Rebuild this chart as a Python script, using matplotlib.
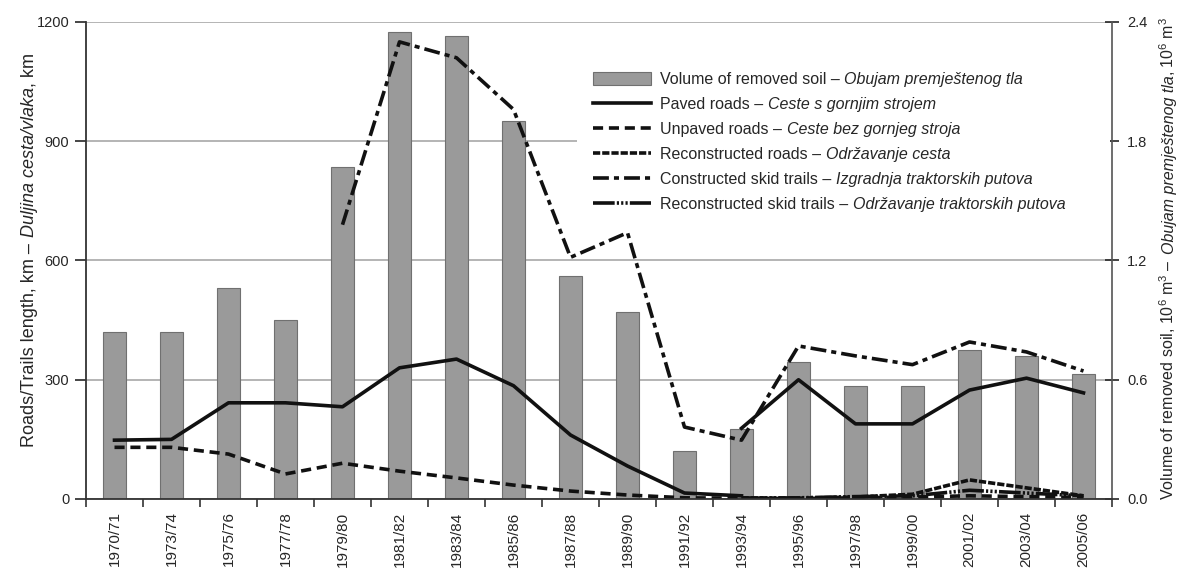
import numpy as np
import matplotlib
matplotlib.use('Agg')
from matplotlib import pyplot as plt

years = ['1970/71', '1973/74', '1975/76', '1977/78', '1979/80', '1981/82',
         '1983/84', '1985/86', '1987/88', '1989/90', '1991/92', '1993/94',
         '1995/96', '1997/98', '1999/00', '2001/02', '2003/04', '2005/06']

# volume of removed soil, 10^6 m3 (right axis)
soil_volume = [0.84, 0.84, 1.06, 0.90, 1.67, 2.35, 2.33, 1.90, 1.12, 0.94,
               0.24, 0.35, 0.69, 0.57, 0.57, 0.75, 0.72, 0.63]

# lengths in km (left axis), nan = no value
nan = np.nan
paved_roads = [148, 150, 242, 242, 232, 330, 352, 285, 161, 83, 15, 8,
               nan, nan, nan, nan, nan, nan]
paved_roads_resumed = [nan] * 11 + [178, 300, 189, 189, 274, 304, 267]
unpaved_roads = [130, 130, 113, 63, 90, 70, 53, 35, 20, 10, 3, 2,
                 1, 3, 5, 8, 6, 4]
reconstructed_roads = [nan] * 11 + [3, 2, 5, 12, 48, 28, 8]
constructed_skid = [nan] * 4 + [690, 1150, 1110, 980, 608, 670, 181, 148,
                                385, 360, 338, 395, 370, 322]
reconstructed_skid = [nan] * 11 + [2, 3, 6, 8, 22, 15, 8]

labels_en = ['Volume of removed soil –', 'Paved roads –', 'Unpaved roads –',
             'Reconstructed roads –', 'Constructed skid trails –',
             'Reconstructed skid trails –']
labels_hr = ['Obujam premještenog tla', 'Ceste s gornjim strojem',
             'Ceste bez gornjeg stroja', 'Održavanje cesta',
             'Izgradnja traktorskih putova', 'Održavanje traktorskih putova']

plt.rcParams['font.family'] = ['Liberation Sans', 'DejaVu Sans']
plt.rcParams['mathtext.fontset'] = 'custom'
plt.rcParams['mathtext.rm'] = 'Liberation Sans'
plt.rcParams['mathtext.it'] = 'Liberation Sans:italic'
TXT = '#262626'
LC = '#111111'

W, H = 1184, 570
fig = plt.figure(figsize=(W / 100, H / 100), dpi=100)
ax = fig.add_axes([86 / W, 71 / H, 1026 / W, 477 / H])
ax2 = ax.twinx()
ax.set_zorder(2)
ax2.set_zorder(1)
ax.patch.set_visible(False)

x = np.arange(len(years))
bars = ax2.bar(x, soil_volume, width=0.4, color='#9a9a9a',
               edgecolor='#707070', linewidth=0.8)
ax2.set_ylim(0, 2.4)
ax2.set_yticks([0, 0.6, 1.2, 1.8, 2.4])
ax2.set_yticklabels(['0.0', '0.6', '1.2', '1.8', '2.4'])
ax2.yaxis.grid(True, color='#a8a8a8', lw=1.2)
ax2.set_axisbelow(True)

lw = 2.6
l1, = ax.plot(x, paved_roads, color=LC, lw=lw, ls='-')
ax.plot(x, paved_roads_resumed, color=LC, lw=lw, ls='-')
l2, = ax.plot(x, unpaved_roads, color=LC, lw=lw, ls=(0, (2.8, 1.6)))
l3, = ax.plot(x, reconstructed_roads, color=LC, lw=lw, ls=(0, (2.0, 0.55)))
l4, = ax.plot(x, constructed_skid, color=LC, lw=lw, ls=(0, (4.4, 1.4, 1.4, 1.4)))
l5, = ax.plot(x, reconstructed_skid, color=LC, lw=lw,
              ls=(0, (6, 0.6, 0.6, 0.6, 0.6, 0.6, 0.6, 0.6)))

ax.set_xlim(-0.5, len(years) - 0.5)
ax.set_ylim(0, 1200)
ax.set_yticks([0, 300, 600, 900, 1200])
ax.set_xticks(x)
ax.set_xticklabels(years, rotation=90)
ax.set_xticks(np.arange(-0.5, len(years), 1), minor=True)
ax.tick_params(axis='x', which='major', length=0, pad=9, labelsize=11, colors=TXT)
ax.tick_params(axis='x', which='minor', length=6, width=1.2, direction='out', color='#333333')
ax.tick_params(axis='y', length=8, width=1.2, direction='out', pad=4, labelsize=10.5,
               colors=TXT)
ax2.tick_params(axis='y', length=10, width=1.2, direction='inout', pad=6, labelsize=10.5,
                colors=TXT)

for s in ['top', 'right']:
    ax.spines[s].set_visible(False)
for s in ['top', 'left', 'bottom']:
    ax2.spines[s].set_visible(False)
ax.spines['left'].set_color('#333333')
ax.spines['bottom'].set_color('#333333')
ax.spines['left'].set_linewidth(1.3)
ax.spines['bottom'].set_linewidth(1.3)
ax2.spines['right'].set_color('#555555')
ax2.spines['right'].set_linewidth(1.2)

fs = 11.5
leg = ax.legend([bars, l1, l2, l3, l4, l5], labels_en, loc='upper left',
                bbox_to_anchor=(0.4786, 0, 0.5195, 0.929), mode='expand',
                borderaxespad=0, borderpad=1.0, fancybox=False,
                edgecolor='none', facecolor='white', framealpha=1,
                handlelength=3.6, handletextpad=0.6, labelspacing=0.62,
                handleheight=0.9, fontsize=fs)
for t in leg.get_texts():
    t.set_color(TXT)

fig.canvas.draw()
r = fig.canvas.get_renderer()
gap = 0.28 * fs * 100 / 72
for t, hr in zip(leg.get_texts(), labels_hr):
    bb = t.get_window_extent(r)
    fig.text((bb.x1 + gap) / W, bb.y0 / H, hr, style='italic', fontsize=fs,
             ha='left', va='bottom', color=TXT, zorder=5)


def vertical_label(pieces, x_px, yc_px, size):
    objs = []
    for s, style, g in pieces:
        objs.append((fig.text(0, 0, s, rotation=90, rotation_mode='anchor',
                              ha='left', va='baseline', style=style,
                              fontsize=size, color=TXT), g))
    fig.canvas.draw()
    rr = fig.canvas.get_renderer()
    sp = 0.28 * size * 100 / 72
    lens = [o.get_window_extent(rr).height for o, g in objs]
    total = sum(lens) + sp * sum(1 for o, g in objs if g)
    y = yc_px - total / 2
    for (o, g), ln in zip(objs, lens):
        if g:
            y += sp
        o.set_position((x_px / W, y / H))
        y += ln


vertical_label([('Roads/Trails length, km –', 'normal', False),
                ('Duljina cesta/vlaka', 'italic', True),
                (', km', 'normal', False)], 34, 320, 13)
vertical_label([('Volume of removed soil, 10$^6$ m$^3$ –', 'normal', False),
                ('Obujam premještenog tla', 'italic', True),
                (', 10$^6$ m$^3$', 'normal', False)], 1174, 312, 11.5)

fig.savefig('out.png', dpi=100)
